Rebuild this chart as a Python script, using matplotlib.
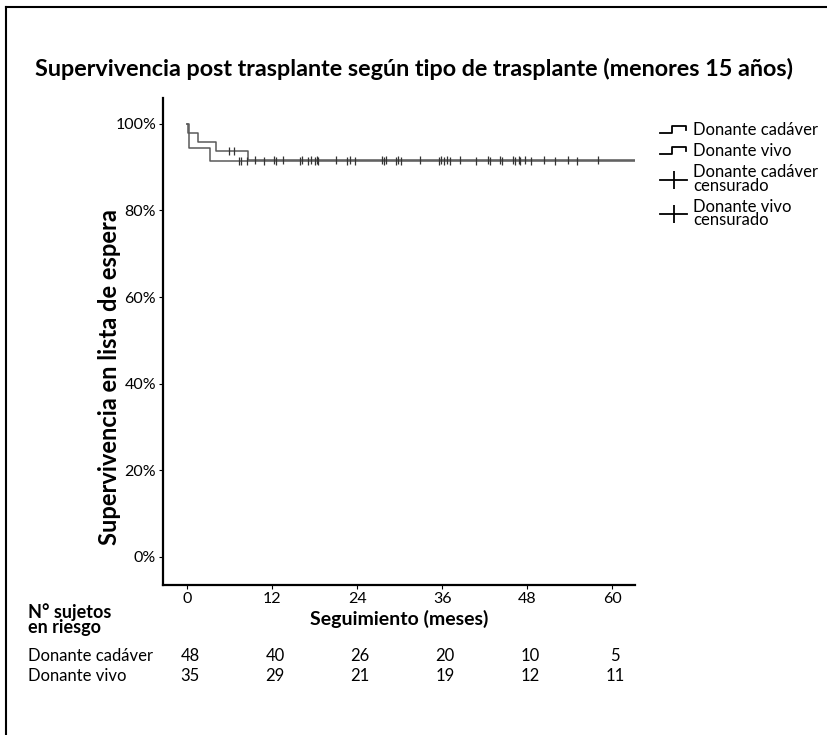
import numpy as np
import matplotlib
matplotlib.use("Agg")
import matplotlib.pyplot as plt
from matplotlib.lines import Line2D
from matplotlib.legend_handler import HandlerBase
from matplotlib.ticker import FuncFormatter

plt.rcParams['font.family'] = ['Lato', 'DejaVu Sans']

# curvas de Kaplan-Meier (meses, % supervivencia)
cad_t = [0, 0.1, 1.55, 4.1, 8.6]
cad_s = [100, 97.9, 95.8, 93.75, 91.6]
viv_t = [0, 0.25, 3.2]
viv_s = [100, 94.3, 91.4]
t_end = 64

# censurados
cad_cens = [5.9, 6.6, 9.5, 12.3, 13.5, 16.2, 17.4, 18.3, 21.0, 23.0, 27.5, 28.1,
            29.8, 32.9, 35.8, 36.7, 38.5, 42.4, 44.1, 46.0, 46.8, 47.6, 50.3,
            53.8, 57.9]
viv_cens = [7.25, 7.6, 8.4, 10.9, 12.6, 15.9, 17.1, 18.1, 18.5, 22.6, 23.7, 27.7,
            29.4, 30.1, 35.6, 36.2, 37.1, 40.7, 42.7, 44.4, 46.2, 47.0, 48.5,
            51.9, 55.0]

# tabla de riesgo
risk_times = [0, 12, 24, 36, 48, 60]
risk_cad = [48, 40, 26, 20, 10, 5]
risk_viv = [35, 29, 21, 19, 12, 11]

line_col = '#5a5a5a'


def surv_at(times, surv, x):
    idx = np.searchsorted(times, x, side='right') - 1
    return np.array(surv)[idx]


class StepHandler(HandlerBase):
    def create_artists(self, legend, orig_handle, xdescent, ydescent,
                       width, height, fontsize, trans):
        xs = np.array([0, 0.45, 0.45, 0.95, 0.95]) * width - xdescent
        ys = np.array([0.15, 0.15, 0.8, 0.8, 0.4]) * height - ydescent
        ln = Line2D(xs, ys, color='black', lw=1.3)
        ln.set_transform(trans)
        return [ln]


fig = plt.figure(figsize=(8.28, 7.35), dpi=100)
ax = fig.add_axes([0.197, 0.204, 0.570, 0.663])

ax.step(cad_t + [t_end], cad_s + [cad_s[-1]], where='post', color=line_col, lw=1.1)
ax.step(viv_t + [t_end], viv_s + [viv_s[-1]], where='post', color=line_col, lw=1.1)
ax.plot(cad_cens, surv_at(cad_t, cad_s, cad_cens), ls='none', marker='|',
        ms=6, mew=0.9, color='#333333')
ax.plot(viv_cens, surv_at(viv_t, viv_s, viv_cens), ls='none', marker='|',
        ms=6, mew=0.9, color='#333333')

ax.set_xlim(-3.4, 63.2)
ax.set_ylim(-6.5, 106)
ax.set_xticks(risk_times)
ax.set_yticks([0, 20, 40, 60, 80, 100])
ax.yaxis.set_major_formatter(FuncFormatter(lambda v, p: '%d%%' % v))
for s in ['top', 'right']:
    ax.spines[s].set_visible(False)
for s in ['left', 'bottom']:
    ax.spines[s].set_linewidth(1.6)
ax.tick_params(axis='both', labelsize=11.5, length=3, width=0.8, pad=2)
ax.set_xlabel('Seguimiento (meses)', fontsize=14, fontweight='bold', labelpad=3)
ax.set_ylabel('Supervivencia en lista de espera', fontsize=17, fontweight='bold')
ax.yaxis.set_label_coords(-0.09, 0.427)

fig.text(0.5, 0.897, 'Supervivencia post trasplante según tipo de trasplante (menores 15 años)',
         ha='center', va='baseline', fontsize=16.8, fontweight='bold')

# leyenda
h_cad = Line2D([], [], color='black')
h_viv = Line2D([], [], color='black')
h_cc = Line2D([], [], color='black', lw=1.3, marker='|', ms=13, mew=1.3)
h_vc = Line2D([], [], color='black', lw=1.3, marker='|', ms=13, mew=1.3)
leg = fig.legend([h_cad, h_viv, h_cc, h_vc],
                 ['Donante cadáver', 'Donante vivo', 'Donante cadáver\ncensurado',
                  'Donante vivo\ncensurado'],
                 handler_map={h_cad: StepHandler(), h_viv: StepHandler()},
                 loc='upper left', bbox_to_anchor=(0.789, 0.843), frameon=False,
                 fontsize=12, handlelength=1.65, handletextpad=0.35, labelspacing=0.3,
                 numpoints=1, borderaxespad=0)
for t in leg.get_texts():
    t.set_linespacing(0.82)

# tabla de sujetos en riesgo
tr = matplotlib.transforms.blended_transform_factory(ax.transData, fig.transFigure)
fig.text(0.034, 0.157, 'N° sujetos\nen riesgo', fontsize=13, fontweight='bold',
         va='center', ha='left', linespacing=0.9)
fig.text(0.034, 0.108, 'Donante cadáver', fontsize=12, va='center', ha='left')
fig.text(0.034, 0.080, 'Donante vivo', fontsize=12, va='center', ha='left')
for t, a, b in zip(risk_times, risk_cad, risk_viv):
    ax.text(t + 0.4, 0.108, str(a), transform=tr, fontsize=12, ha='center', va='center')
    ax.text(t + 0.4, 0.080, str(b), transform=tr, fontsize=12, ha='center', va='center')

# marco
fig.add_artist(Line2D([6 / 828, 6 / 828], [0, 1 - 7 / 735], transform=fig.transFigure,
                      color='black', lw=1.5))
fig.add_artist(Line2D([6 / 828, 1], [1 - 7 / 735, 1 - 7 / 735], transform=fig.transFigure,
                      color='black', lw=1.5))

fig.savefig('out.png', dpi=100)
